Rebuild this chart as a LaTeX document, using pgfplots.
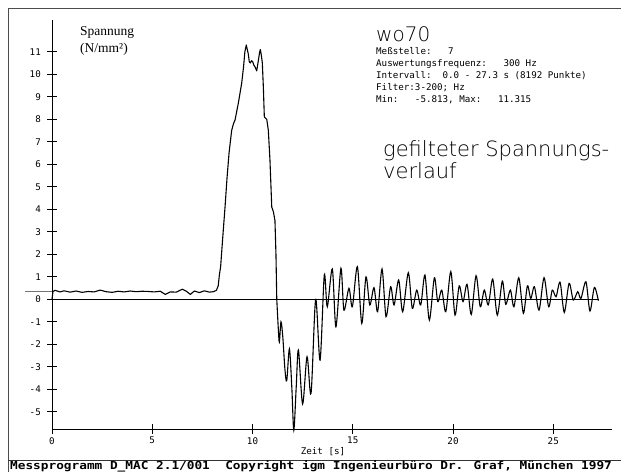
\documentclass[border=0pt]{standalone}
\usepackage{fontspec}
\usepackage{graphicx}
\usepackage{pgfplots}
\pgfplotsset{compat=1.18}
\setmainfont{Liberation Serif}
\newfontfamily\dotfont{DejaVu Sans Mono}
\newfontfamily\handfont{DejaVuSans-ExtraLight.ttf}
\newcommand{\dotsz}{\dotfont\fontsize{9.2}{11}\selectfont}
\begin{document}
\begin{tikzpicture}[x=1pt,y=1pt]
\useasboundingbox (0,0) rectangle (621,472);
% page frame
\draw[black!70, line width=0.9pt] (621,464) -- (8,464) -- (8,0);
\draw[black!80, line width=0.9pt] (8,12) -- (621,12);
\begin{axis}[
  at={(52pt,43pt)}, anchor=south west,
  scale only axis, width=560pt, height=409pt,
  xmin=0, xmax=27.93, ymin=-5.76, ymax=12.41,
  axis x line=bottom, axis y line=left,
  axis line style={-, black, line width=0.8pt},
  clip=false,
  tick align=center, major tick length=10pt,
  tick style={black, line width=0.8pt},
  xtick={0,5,10,15,20,25},
  xticklabels={0,5,10,15,20,25},
  ytick={-5,-4,-3,-2,-1,0,1,2,3,4,5,6,7,8,9,10,11},
  yticklabels={-5,-4,-3,-2,-1,0,1,2,3,4,5,6,7,8,9,10,11},
  minor tick num=0,
  xticklabel style={font=\dotsz, anchor=north, inner sep=0pt, yshift=-3pt},
  yticklabel style={font=\dotsz, anchor=east, inner sep=0pt, xshift=-6pt},
  /pgf/number format/assume math mode=true,
]
% zero line and baseline stub
\addplot[black, line width=0.7pt] coordinates {(0,0) (27.3,0)};
\addplot[black!55, line width=0.7pt] coordinates {(-1.35,0.34) (0,0.34)};
% baseline and main pulse
\addplot[black, line width=1.1pt, line join=round] coordinates {
(0,0) (0.05,0.35) (0.15,0.40) (0.4,0.33) (0.6,0.38) (0.9,0.32) (1.2,0.37)
(1.5,0.31) (1.8,0.35) (2.1,0.33) (2.4,0.41) (2.7,0.34) (3.0,0.31) (3.3,0.36)
(3.6,0.33) (3.9,0.37) (4.2,0.34) (4.5,0.36) (4.8,0.35) (5.1,0.33) (5.4,0.36)
(5.65,0.22) (5.9,0.33) (6.2,0.32) (6.5,0.45) (6.7,0.36) (6.9,0.22) (7.1,0.37)
(7.35,0.30) (7.6,0.38) (7.85,0.32) (8.05,0.34) (8.2,0.40) (8.29,0.6)
(8.35,1.1) (8.41,1.45) (8.52,2.8) (8.63,4.1) (8.73,5.4) (8.83,6.5) (8.96,7.5)
(9.05,7.8) (9.13,7.97) (9.29,8.7) (9.46,9.6) (9.55,10.3) (9.62,11.0) (9.69,11.3)
(9.74,11.1) (9.79,10.9) (9.84,10.55) (9.89,10.5) (9.95,10.6) (10.01,10.56)
(10.07,10.4) (10.12,10.34) (10.21,10.15) (10.29,10.6) (10.35,10.95) (10.39,11.1)
(10.44,10.85) (10.49,10.5) (10.54,9.45) (10.59,8.1) (10.65,8.05) (10.71,8.0)
(10.79,7.5) (10.87,6.2) (10.96,4.1) (11.04,3.9) (11.12,3.5) (11.17,2.0) (11.21,0)
};
% trough and decaying oscillation
\addplot[black, line width=1.1pt, smooth, tension=0.5] coordinates {
(11.21,0) (11.29,-1.36) (11.34,-1.9) (11.42,-1.0) (11.51,-1.66) (11.62,-3.14)
(11.71,-3.6) (11.84,-2.2) (11.96,-3.9) (12.06,-5.81) (12.18,-3.9) (12.29,-2.25)
(12.50,-4.65) (12.72,-2.55) (12.92,-4.17) (13.15,0.0) (13.37,-2.7) (13.58,1.08)
(13.73,-0.33) (13.98,1.35) (14.16,-1.22) (14.41,1.38) (14.56,-0.48) (14.81,0.49)
(14.98,-0.33) (15.23,1.45) (15.45,-1.07) (15.66,1.0) (15.85,-0.25) (16.06,0.52)
(16.24,-0.55) (16.46,1.35) (16.66,-0.77) (16.89,0.56) (17.06,-0.25) (17.29,0.86)
(17.49,-0.55) (17.77,1.18) (17.97,-0.4) (18.19,0.41) (18.39,-0.25) (18.60,1.08)
(18.82,-0.92) (19.07,0.96) (19.24,-0.1) (19.44,0.41) (19.64,-0.55) (19.89,1.23)
(20.10,-0.7) (20.31,0.6) (20.50,-0.1) (20.70,0.67) (20.91,-0.67) (21.15,1.05)
(21.36,-0.33) (21.56,0.41) (21.76,-0.25) (21.98,0.9) (22.21,-0.7) (22.46,0.81)
(22.63,-0.22) (22.86,0.41) (23.04,-0.33) (23.28,0.96) (23.51,-0.62) (23.71,0.6)
(23.88,0.04) (24.06,0.56) (24.29,-0.48) (24.54,0.96) (24.77,-0.33) (24.95,0.41)
(25.14,0.12) (25.34,0.76) (25.55,-0.58) (25.79,0.71) (26.00,-0.03) (26.22,0.34)
(26.38,0.04) (26.63,0.78) (26.83,-0.52) (27.05,0.53) (27.25,-0.06)
};
\end{axis}
% axis titles
\node[anchor=base west, inner sep=0pt, font=\fontsize{13.5}{15}\selectfont] at (80,436) {Spannung};
\node[anchor=base west, inner sep=0pt, font=\fontsize{13.5}{15}\selectfont] at (80,419) {(N/mm²)};
\node[anchor=center, inner sep=0pt, font=\dotsz] at (323,20) {Zeit [s]};
% header block
\node[anchor=base west, inner sep=0pt, font=\handfont\fontsize{20}{24}\selectfont] at (376,430.5) {wo70};
\node[anchor=base west, inner sep=0pt, font=\dotsz] at (376,417.5) {Meßstelle:\ \ \ 7};
\node[anchor=base west, inner sep=0pt, font=\dotsz] at (376,405.5) {Auswertungsfrequenz:\ \ \ 300 Hz};
\node[anchor=base west, inner sep=0pt, font=\dotsz] at (376,393.5) {Intervall:\ \ 0.0 - 27.3 s (8192 Punkte)};
\node[anchor=base west, inner sep=0pt, font=\dotsz] at (376,381.5) {Filter:3-200; Hz};
\node[anchor=base west, inner sep=0pt, font=\dotsz] at (376,369.5) {Min:\ \ \ -5.813, Max:\ \ \ 11.315};
% handwritten note
\node[anchor=base west, inner sep=0pt, font=\handfont\fontsize{21}{24}\selectfont] at (383,315) {gefilteter Spannungs-};
\node[anchor=base west, inner sep=0pt, font=\handfont\fontsize{21}{24}\selectfont] at (383,293) {verlauf};
% footer
\node[anchor=base west, inner sep=0pt, font=\dotfont\bfseries\fontsize{11}{12}\selectfont] at (10,2.9) {\scalebox{1.16}[1]{Messprogramm D\_MAC 2.1/001\ \ Copyright igm Ingenieurbüro Dr. Graf, München 1997}};
\end{tikzpicture}
\end{document}
